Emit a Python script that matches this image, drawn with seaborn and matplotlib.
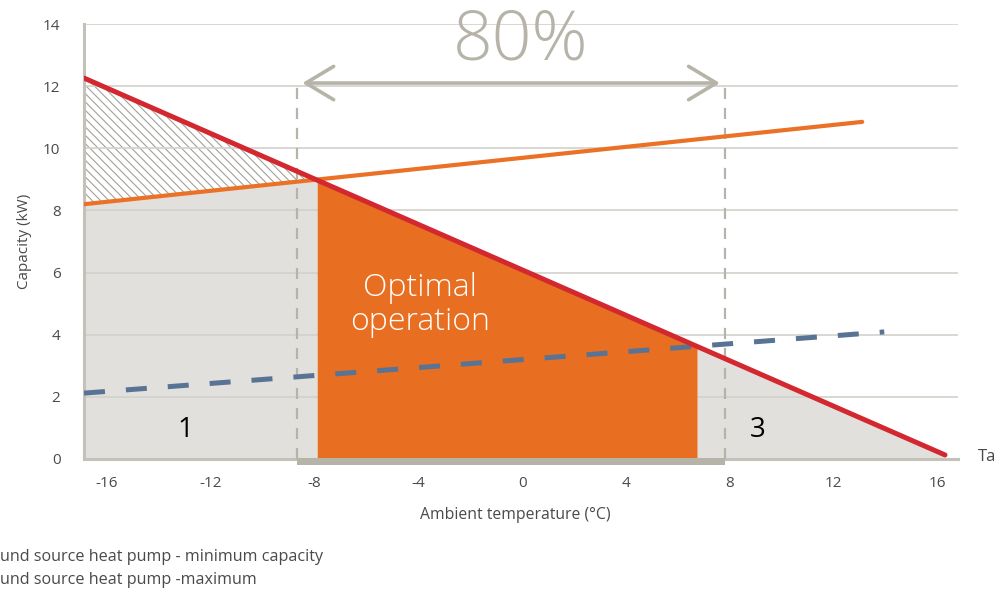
import numpy as np
import pandas as pd
import matplotlib
matplotlib.use('Agg')
import matplotlib.pyplot as plt
import seaborn as sns
from matplotlib.patches import FancyArrowPatch

# line endpoints: ambient temperature (°C) -> capacity (kW)
demand_t = [-16.88, 16.28]
demand_kw = [12.26, 0.13]
max_t = [-16.88, 13.09]
max_kw = [8.2, 10.85]
min_t = [-16.88, 13.94]
min_kw = [2.12, 4.09]

# region limits
opt_start = -7.9
opt_end = 6.73
range_80 = [-8.67, 7.81]

x_ticks = [-16, -12, -8, -4, 0, 4, 8, 12, 16]
x_tick_labels = ['-16', '-12', '-8', '-4', '0', '4', '8', '12', '16']
y_ticks = [0, 2, 4, 6, 8, 10, 12, 14]

legend_lines = ['und source heat pump - minimum capacity',
                'und source heat pump -maximum']

sns.set_theme(style='white')
plt.rcParams['font.family'] = ['Open Sans', 'DejaVu Sans']
plt.rcParams['hatch.linewidth'] = 0.8

RED = '#d3282f'
ORANGE = '#ea7125'
ORANGE_FILL = '#e86f21'
GREY_FILL = '#e2e0dc'
BLUE = '#587394'
LIGHT = '#b6b3a9'
GRID = '#d3d1ca'
TXT = '#4a4a4a'

fig = plt.figure(figsize=(10.06, 5.92), dpi=100)
ax = fig.add_axes([84 / 1006, 133 / 592, 874 / 1006, 435 / 592])

# grey areas
t1 = np.linspace(max_t[0], opt_start, 60)
ax.fill_between(t1, 0, np.interp(t1, max_t, max_kw), color=GREY_FILL, lw=0, zorder=1)
t3 = np.linspace(opt_end, demand_t[1], 60)
ax.fill_between(t3, 0, np.interp(t3, demand_t, demand_kw), color=GREY_FILL, lw=0, zorder=1)

# hatched area between max capacity and demand
ax.fill_between(t1, np.interp(t1, max_t, max_kw), np.interp(t1, demand_t, demand_kw),
                facecolor='none', edgecolor='#a3a199', hatch='\\\\\\\\', lw=0, zorder=1.5)

# grid
for y in y_ticks:
    ax.axhline(y, color=GRID, lw=1.2, zorder=2)

# optimal operation
t2 = np.linspace(opt_start, opt_end, 60)
ax.fill_between(t2, 0, np.interp(t2, demand_t, demand_kw), color=ORANGE_FILL, lw=0, zorder=3)

# 80% range markers
for x in range_80:
    ax.plot([x, x], [0, 12.0], color=LIGHT, lw=1.6, ls=(0, (5, 4)), zorder=2.5)
bar = ax.fill_between(range_80, -0.2, 0.04, color=LIGHT, lw=0, zorder=6)
bar.set_clip_on(False)
arrow = FancyArrowPatch((range_80[0] + 0.2, 12.1), (range_80[1] - 0.2, 12.1),
                        arrowstyle='<->,head_length=20,head_width=12',
                        mutation_scale=1, color=LIGHT, lw=2.6, shrinkA=0, shrinkB=0, zorder=5)
ax.add_patch(arrow)
ax.text(np.mean(range_80) + 0.35, 13.45, '80%', color=LIGHT, fontsize=50,
        fontweight='light', ha='center', va='center', zorder=5)

# lines
sns.lineplot(x=min_t, y=min_kw, ax=ax, color=BLUE, lw=3.6, linestyle=(0, (4.2, 4.2)),
             zorder=4)
ax.lines[-1].set_dash_capstyle('butt')
sns.lineplot(x=max_t, y=max_kw, ax=ax, color=ORANGE, lw=3.0, zorder=5)
sns.lineplot(x=demand_t, y=demand_kw, ax=ax, color=RED, lw=3.6, zorder=6)

# labels in the plot
ax.text(-3.93, 4.96, 'Optimal\noperation', color='white', fontsize=23, fontweight='light',
        ha='center', va='center', linespacing=1.1, zorder=7)
ax.text(-12.98, 0.93, '1', color='black', fontsize=20, ha='center', va='center', zorder=7)
ax.text(9.06, 0.93, '3', color='black', fontsize=20, ha='center', va='center', zorder=7)

ax.set_xlim(-16.88, 16.78)
ax.set_ylim(0, 14)
ax.set_xticks(x_ticks)
ax.set_xticklabels(x_tick_labels)
ax.set_yticks(y_ticks)
ax.tick_params(length=0, labelsize=11, labelcolor=TXT)
ax.tick_params(axis='y', pad=17)
ax.tick_params(axis='x', pad=12)

for s in ['top', 'right']:
    ax.spines[s].set_visible(False)
for s in ['left', 'bottom']:
    ax.spines[s].set_color('#c4c1b9')
    ax.spines[s].set_linewidth(2.2)
    ax.spines[s].set_zorder(2.2)

ax.set_xlabel('Ambient temperature (°C)', fontsize=11.3, color=TXT)
ax.xaxis.set_label_coords(0.494, -0.11)
ax.set_ylabel('Capacity (kW)', fontsize=11, color=TXT)
ax.yaxis.set_label_coords(-0.06, 0.5)

fig.text(978 / 1006, 1 - 457 / 592, 'Ta', fontsize=12, color=TXT, va='center', ha='left')
fig.text(0.0, 1 - 557 / 592, legend_lines[0], fontsize=11.6, color=TXT, va='center', ha='left')
fig.text(0.0, 1 - 580 / 592, legend_lines[1], fontsize=11.6, color=TXT, va='center', ha='left')

fig.savefig('out.png', dpi=100)
